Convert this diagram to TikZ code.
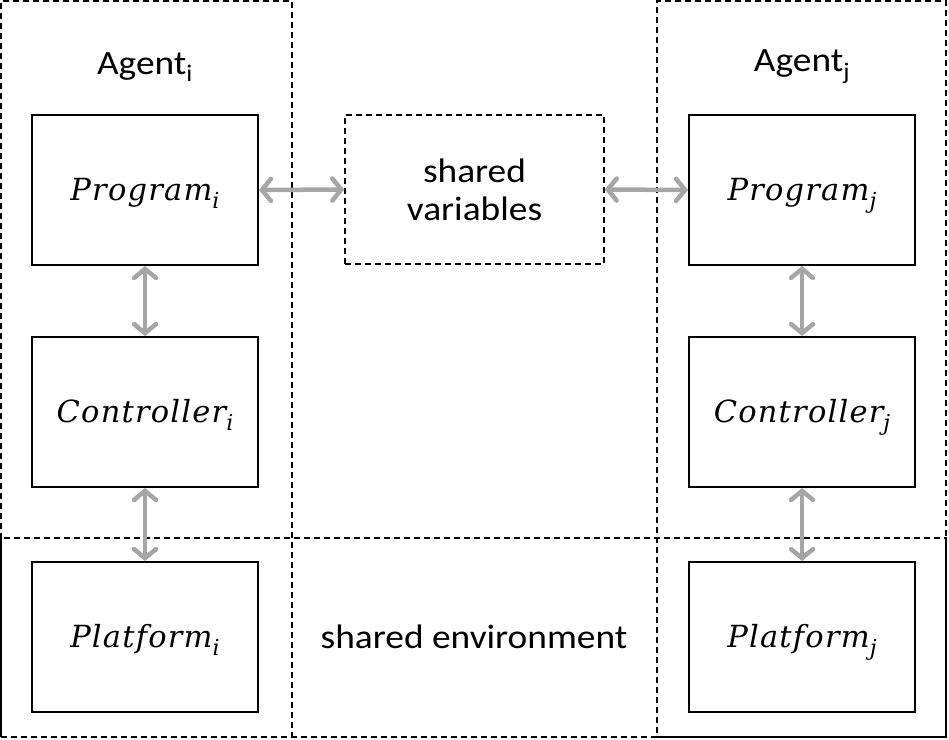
\documentclass[tikz,border=0pt]{standalone}
\usepackage{fontspec}
\setmainfont{Carlito}[FakeStretch=1.1]
\newfontfamily\mathfont{DejaVu Serif}[LetterSpace=4]
\newcommand{\mvar}[2]{\raisebox{-10pt}[0pt][0pt]{\mathfont\itshape #1\raisebox{-8pt}{\fontsize{22}{26}\selectfont #2}}}
\usetikzlibrary{arrows.meta}
\tikzset{
  solidbox/.style={draw=black, line width=2pt, minimum width=226pt, minimum height=150pt, inner sep=0pt, font=\fontsize{30.5}{36}\selectfont},
  dashbox/.style={draw=black, line width=1.8pt, dash pattern=on 6pt off 4pt, inner sep=0pt},
  link/.style={draw=black!35, line width=4.5pt, {Straight Barb[length=9pt,width=22pt,line cap=round]}-{Straight Barb[length=9pt,width=22pt,line cap=round]}, line cap=round},
  lbl/.style={font=\fontsize{34}{38}\selectfont, align=center, inner sep=0pt}
}
\begin{document}
\begin{tikzpicture}[x=1pt,y=-1pt]
\useasboundingbox (0,0) rectangle (949,739);
% outer dashed regions
\node[dashbox, minimum width=291pt, minimum height=736pt] (agi) at (146.5,369) {};
\node[dashbox, minimum width=289pt, minimum height=736pt] (agj) at (801.5,369) {};
\node[dashbox, minimum width=945pt, minimum height=199pt] (env) at (473.5,637.5) {};
% titles
\node[lbl] (ti) at (145,67) {Agent\textsubscript{i}};
\node[lbl] (tj) at (802,67) {Agent\textsubscript{j}};
% solid boxes
\node[solidbox] (pi) at (145,190) {\mvar{Program}{i}};
\node[solidbox] (ci) at (145,412) {\mvar{Controller}{i}};
\node[solidbox] (fi) at (145,637) {\mvar{Platform}{i}};
\node[solidbox] (pj) at (802,190) {\mvar{Program}{j}};
\node[solidbox] (cj) at (802,412) {\mvar{Controller}{j}};
\node[solidbox] (fj) at (802,637) {\mvar{Platform}{j}};
% shared variables
\node[dashbox, line width=1.5pt, minimum width=259pt, minimum height=149pt, lbl] (sv) at (474.5,189.5) {shared\\variables};
\node[lbl] (se) at (474,637) {shared environment};
% connectors
\draw[link] (pi.east) -- (sv.west);
\draw[link] (sv.east) -- (pj.west);
\draw[link] (pi.south) -- (ci.north);
\draw[link] (ci.south) -- (fi.north);
\draw[link] (pj.south) -- (cj.north);
\draw[link] (cj.south) -- (fj.north);
\end{tikzpicture}
\end{document}
